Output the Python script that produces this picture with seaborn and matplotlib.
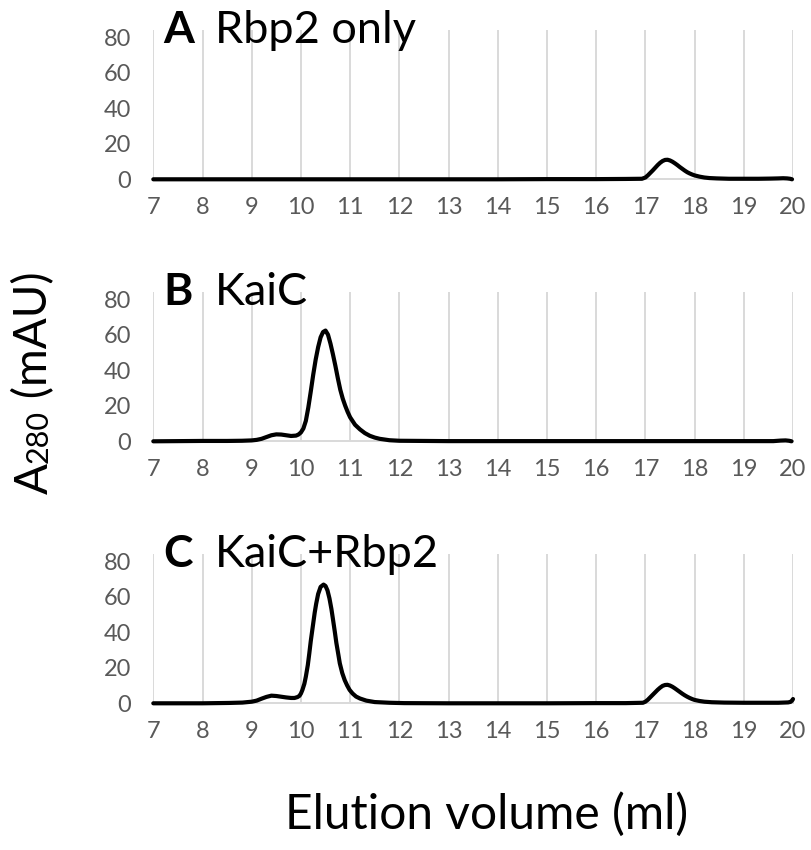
import matplotlib
matplotlib.use("Agg")
import matplotlib.pyplot as plt
import seaborn as sns
import pandas as pd

# ---------------- data ----------------
panel_letters = ["A", "B", "C"]
panel_names = ["Rbp2 only", "KaiC", "KaiC+Rbp2"]
x_ticks = [7, 8, 9, 10, 11, 12, 13, 14, 15, 16, 17, 18, 19, 20]
y_ticks = [0, 20, 40, 60, 80]

# Panel A: Rbp2 only
a_vol = [7.0, 8.0, 9.0, 10.0, 11.0, 12.0, 13.0, 14.0, 15.0, 16.0, 16.6, 16.93,
         17.0, 17.05, 17.1, 17.15, 17.2, 17.25, 17.3, 17.35, 17.4, 17.45, 17.5,
         17.55, 17.6, 17.65, 17.7, 17.75, 17.8, 17.85, 17.9, 17.95, 18.0, 18.1,
         18.2, 18.3, 18.45, 18.7, 19.0, 19.3, 19.55, 19.7, 19.8, 19.88, 19.94, 19.98]
a_abs = [0.0, 0.0, 0.0, 0.0, 0.0, 0.0, 0.0, 0.0, 0.1, 0.1, 0.2, 0.3,
         1.0, 2.2, 3.6, 5.0, 6.5, 8.0, 9.3, 10.3, 10.9, 11.0, 10.6,
         9.9, 9.0, 8.0, 6.9, 5.9, 4.9, 4.0, 3.3, 2.7, 2.2, 1.5,
         1.0, 0.7, 0.5, 0.3, 0.3, 0.3, 0.4, 0.5, 0.6, 0.5, 0.3, 0.0]

# Panel B: KaiC
b_vol = [7.0, 7.5, 8.0, 8.5, 8.8, 9.0, 9.1, 9.2, 9.3, 9.4, 9.5, 9.6, 9.7, 9.8,
         9.9, 9.95, 10.0, 10.05, 10.1, 10.15, 10.2, 10.25, 10.3, 10.35, 10.4,
         10.45, 10.5, 10.55, 10.6, 10.65, 10.7, 10.75, 10.8, 10.85, 10.9, 10.95,
         11.0, 11.1, 11.2, 11.3, 11.4, 11.5, 11.6, 11.8, 12.0, 12.5, 13.0, 14.0,
         15.0, 16.0, 17.0, 18.0, 19.0, 19.6, 19.75, 19.85, 19.92, 19.97]
b_abs = [0.0, 0.1, 0.2, 0.2, 0.3, 0.5, 0.8, 1.4, 2.4, 3.4, 3.9, 3.8, 3.4, 3.0,
         3.2, 3.8, 5.0, 7.2, 11.5, 19.0, 28.0, 37.5, 46.0, 53.0, 58.5,
         61.5, 62.3, 60.0, 55.0, 49.0, 42.5, 35.5, 29.0, 24.0, 20.0, 16.5,
         13.5, 9.3, 6.7, 4.6, 3.1, 2.1, 1.4, 0.6, 0.3, 0.2, 0.1, 0.1,
         0.1, 0.1, 0.1, 0.1, 0.1, 0.1, 0.4, 0.5, 0.3, 0.0]

# Panel C: KaiC+Rbp2
c_vol = [7.0, 8.0, 8.54, 8.81, 9.0, 9.1, 9.2, 9.3, 9.4, 9.5, 9.6, 9.7, 9.8,
         9.87, 9.93, 9.97, 10.0, 10.03, 10.07, 10.1, 10.14, 10.17, 10.2, 10.24,
         10.28, 10.31, 10.35, 10.4, 10.46, 10.5, 10.54, 10.58, 10.62, 10.65,
         10.69, 10.72, 10.76, 10.79, 10.84, 10.89, 10.94, 10.99, 11.05, 11.12,
         11.2, 11.33, 11.5, 11.8, 12.1, 13.0, 14.0, 15.0, 16.0, 16.6, 16.95,
         17.0, 17.05, 17.1, 17.15, 17.2, 17.25, 17.3, 17.35, 17.4, 17.45, 17.5,
         17.55, 17.6, 17.65, 17.7, 17.75, 17.8, 17.85, 17.9, 17.95, 18.0, 18.1,
         18.2, 18.35, 18.6, 19.0, 19.4, 19.7, 19.9, 19.95, 19.98, 20.0]
c_abs = [0.0, 0.0, 0.2, 0.4, 0.9, 1.5, 2.6, 3.6, 4.3, 4.1, 3.7, 3.3, 3.0,
         3.0, 3.5, 4.2, 5.5, 7.5, 11.0, 15.0, 21.5, 28.0, 35.0, 43.0,
         51.0, 56.0, 61.5, 65.5, 66.8, 66.0, 63.5, 59.0, 53.0, 47.5,
         40.0, 34.0, 27.5, 22.5, 17.0, 13.0, 10.0, 7.5, 5.5, 3.8,
         2.7, 1.5, 0.7, 0.3, 0.1, 0.0, 0.0, 0.0, 0.1, 0.1, 0.3,
         0.9, 2.0, 3.4, 4.8, 6.2, 7.6, 8.8, 9.8, 10.3, 10.4, 10.0,
         9.3, 8.4, 7.4, 6.4, 5.4, 4.5, 3.7, 3.0, 2.4, 1.9, 1.3,
         0.9, 0.6, 0.4, 0.3, 0.3, 0.3, 0.5, 0.8, 1.5, 2.4]

x_label = "Elution volume (ml)"
y_label_parts = ["A", "280", " (mAU)"]

# ---------------- build table ----------------
frames = []
for name, vol, ab in zip(panel_names, [a_vol, b_vol, c_vol], [a_abs, b_abs, c_abs]):
    frames.append(pd.DataFrame({"panel": name, "volume": vol, "abs": ab}))
df = pd.concat(frames, ignore_index=True)

# ---------------- style ----------------
sns.set_style("white")
plt.rcParams["font.family"] = ["Lato", "DejaVu Sans"]
plt.rcParams["text.color"] = "black"

W, H = 812, 850
fig = plt.figure(figsize=(W / 100, H / 100), dpi=100)

left = 153.3 / W
width = 639.7 / W
bottoms_px = [179.3, 441.3, 703.3]
height = 149.3 / H
grid_col = "#d9d9d9"
tick_col = "#595959"

for i, (letter, name) in enumerate(zip(panel_letters, panel_names)):
    ax = fig.add_axes([left, 1 - bottoms_px[i] / H, width, height])
    sub = df[df["panel"] == name]
    sns.lineplot(data=sub, x="volume", y="abs", ax=ax, color="black",
                 linewidth=3.0, sort=False, estimator=None, legend=False)
    for ln in ax.lines:
        ln.set_clip_on(False)
        ln.set_solid_capstyle("round")
        ln.set_solid_joinstyle("round")
        ln.set_zorder(5)
    ax.set_xlim(7, 20)
    ax.set_ylim(0, 84)
    ax.set_xticks(x_ticks)
    ax.set_yticks(y_ticks)
    ax.set_xticklabels([str(t) for t in x_ticks])
    ax.set_yticklabels([str(t) for t in y_ticks])
    ax.grid(False)
    for t in x_ticks:
        ax.axvline(t, color=grid_col, linewidth=1.4, zorder=1)
    for s in ["top", "right", "left"]:
        ax.spines[s].set_visible(False)
    ax.spines["bottom"].set_color(grid_col)
    ax.spines["bottom"].set_linewidth(1.4)
    ax.tick_params(axis="both", length=0, labelsize=17, labelcolor=tick_col)
    ax.tick_params(axis="x", pad=13)
    ax.tick_params(axis="y", pad=16)
    ax.set_xlabel("")
    ax.set_ylabel("")
    ax.patch.set_alpha(0)
    ax.text(7.2, 76.5, letter, fontsize=32, fontweight="bold", ha="left",
            va="baseline", clip_on=False, zorder=6, color="black")
    ax.text(8.25, 76.5, name, fontsize=32.5, ha="left", va="baseline",
            clip_on=False, zorder=6, color="black")

# x label
fig.text(487 / W, 1 - 829 / H, x_label, fontsize=34.5, ha="center",
         va="baseline", color="black")

# y label built from pieces (A, small 280, (mAU)) along a shared baseline
fig.canvas.draw()
r = fig.canvas.get_renderer()
yx = 47.5 / W
ypos = 1 - 494 / H
sizes = [33, 22, 33]
for part, fs in zip(y_label_parts, sizes):
    t = fig.text(yx, ypos, part, fontsize=fs, rotation=90, rotation_mode="anchor",
                 ha="left", va="baseline", color="black")
    bb = t.get_window_extent(r)
    ypos += bb.height / H

fig.savefig("out.png", dpi=100)
